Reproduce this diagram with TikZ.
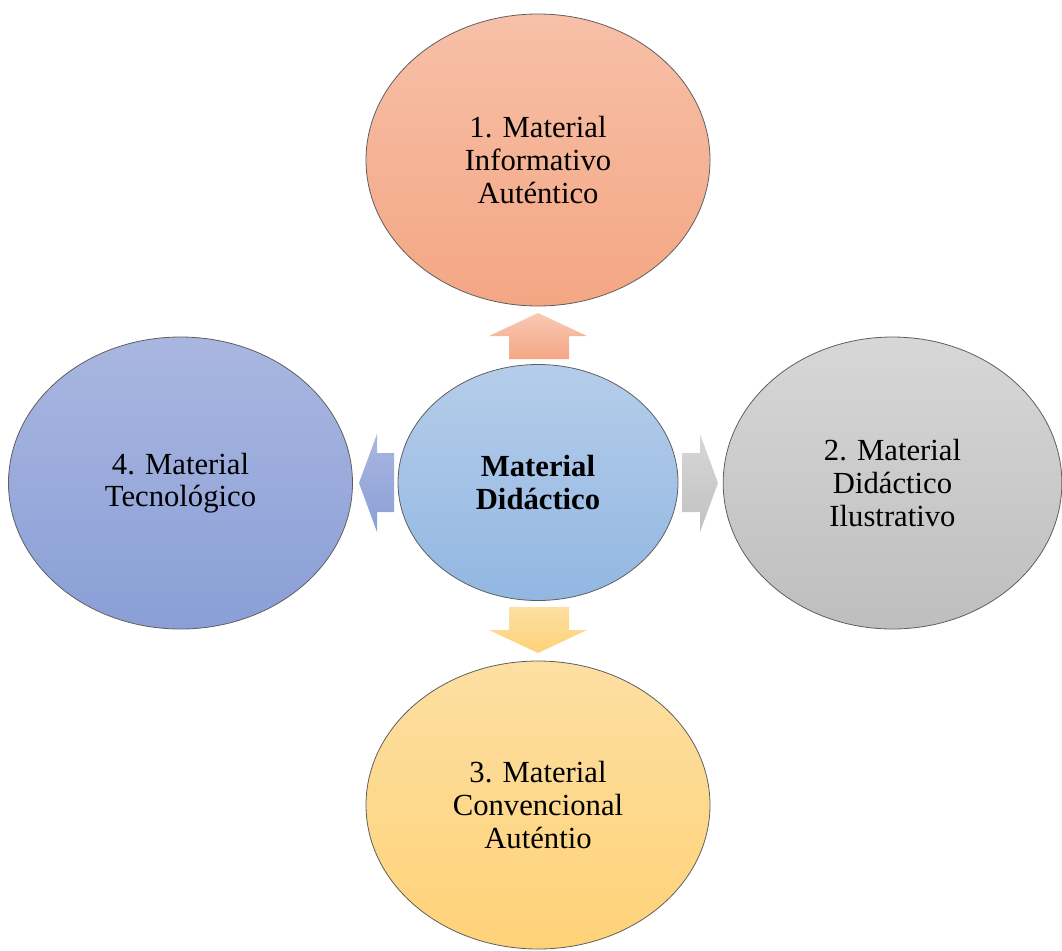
\documentclass[tikz,border=0pt]{standalone}
\usepackage{fontspec}
\setmainfont{Liberation Serif}
\usepackage{tikz}
\usetikzlibrary{shapes.geometric}

\definecolor{salmonTop}{RGB}{247,192,168}
\definecolor{salmonBot}{RGB}{244,166,131}
\definecolor{greyTop}{RGB}{215,215,215}
\definecolor{greyBot}{RGB}{190,190,190}
\definecolor{goldTop}{RGB}{253,223,162}
\definecolor{goldBot}{RGB}{254,210,120}
\definecolor{lilacTop}{RGB}{169,182,224}
\definecolor{lilacBot}{RGB}{138,159,215}
\definecolor{skyTop}{RGB}{181,205,234}
\definecolor{skyBot}{RGB}{146,183,226}
\definecolor{rimGrey}{RGB}{95,95,95}

\begin{document}
\begin{tikzpicture}[x=0.75pt,y=0.75pt,yscale=-1,xscale=1,
  bubble/.style={ellipse, draw=rimGrey, line width=0.6pt, inner sep=0pt, align=center,
    font=\fontsize{23}{24.5}\selectfont},
  blockarrow/.style={draw=none}]
\useasboundingbox (0,0) rectangle (1062,950);

%Shape: Ellipse [id:centre]
\node [bubble, top color=skyTop, bottom color=skyBot, minimum width=210pt, minimum height=177pt] (didactico) at (538,482.5) {\textbf{Material}\\\textbf{Didáctico}};
%Shape: Ellipse [id:top]
\node [bubble, top color=salmonTop, bottom color=salmonBot, minimum width=258pt, minimum height=219pt] (informativo) at (538,160) {1. Material\\Informativo\\Auténtico};
%Shape: Ellipse [id:right]
\node [bubble, top color=greyTop, bottom color=greyBot, minimum width=254pt, minimum height=219pt] (ilustrativo) at (892.5,483) {2. Material\\Didáctico\\Ilustrativo};
%Shape: Ellipse [id:bottom]
\node [bubble, top color=goldTop, bottom color=goldBot, minimum width=258pt, minimum height=216pt] (convencional) at (538,805) {3. Material\\Convencional\\Auténtio};
%Shape: Ellipse [id:left]
\node [bubble, top color=lilacTop, bottom color=lilacBot, minimum width=258pt, minimum height=219pt] (tecnologico) at (180.5,483) {4. Material\\Tecnológico};

%Shape: Up Arrow
\shade [blockarrow, top color=salmonTop!85!white, bottom color=salmonBot] (509,359) -- (509,336) -- (489,336) -- (538,313) -- (587,336) -- (569,336) -- (569,359) -- cycle ;
%Shape: Right Arrow
\shade [blockarrow, top color=greyTop, bottom color=greyBot!95!white] (682,453) -- (700,453) -- (700,434) -- (718,483) -- (700,532) -- (700,512) -- (682,512) -- cycle ;
%Shape: Down Arrow
\shade [blockarrow, top color=goldTop, bottom color=goldBot] (509,607) -- (569,607) -- (569,630) -- (587,630) -- (538,653) -- (489,630) -- (509,630) -- cycle ;
%Shape: Left Arrow
\shade [blockarrow, top color=lilacTop, bottom color=lilacBot] (394,453) -- (377,453) -- (377,434) -- (359,483) -- (377,532) -- (377,512) -- (394,512) -- cycle ;

\end{tikzpicture}
\end{document}
